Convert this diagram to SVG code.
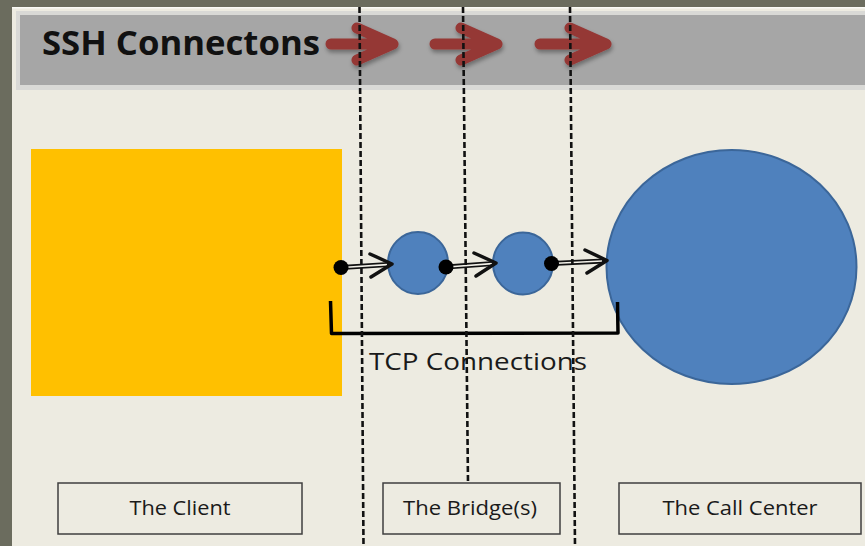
<svg xmlns="http://www.w3.org/2000/svg" width="865" height="546" viewBox="0 0 865 546">
<defs>
<style>
.lbl{font-family:"Open Sans","Liberation Sans",sans-serif;font-size:20px;fill:#1a1a1a}
.box{fill:none;stroke:#3f3f3f;stroke-width:1.5}
.red{fill:none;stroke:#953735;stroke-width:11;stroke-linecap:round;stroke-linejoin:round}
.dash{fill:none;stroke:#111;stroke-width:2.6;stroke-dasharray:6,3}
.bridge{fill:#4f81bd;stroke:#3b6699;stroke-width:2}
.shaftO{fill:none;stroke:#111;stroke-width:5}
.shaftI{fill:none;stroke:#f4f2ea;stroke-width:1.6}
.head{fill:none;stroke:#111;stroke-width:3.5;stroke-linecap:round;stroke-linejoin:round}
</style>
<filter id="sh" x="-20%" y="-20%" width="140%" height="160%">
<feDropShadow dx="1" dy="3" stdDeviation="2" flood-color="#000" flood-opacity="0.35"/>
</filter>
</defs>
<rect x="0" y="0" width="865" height="546" fill="#6b6c5e"/>
<rect x="12" y="7" width="853" height="539" fill="#edebe1"/>
<rect x="12" y="7" width="853" height="1.5" fill="#fafaf6"/>
<rect x="16" y="11" width="849" height="79" fill="#d9d9d6"/>
<rect x="20" y="15" width="845" height="70" fill="#a6a6a6"/>
<g id="title">
<text x="42" y="55" font-family="'Open Sans','Liberation Sans',sans-serif" font-weight="bold" font-size="34" fill="#111" textLength="278" lengthAdjust="spacingAndGlyphs">SSH Connectons</text>
</g>
<g id="ssh-arrows" filter="url(#sh)">
<path class="red" d="M331,44 H392 M357,28 L393,44 L357,60"/>
<path class="red" d="M435,44 H496 M461,28 L497,44 L461,60"/>
<path class="red" d="M540,44 H604 M570,28 L606,44 L570,60"/>
</g>
<g id="client"><rect x="31" y="149" width="311" height="247" fill="#ffc000"/></g>
<g id="bridge1"><ellipse class="bridge" cx="418" cy="263" rx="30" ry="31"/></g>
<g id="bridge2"><ellipse class="bridge" cx="523" cy="263.5" rx="30" ry="31"/></g>
<g id="callcenter"><ellipse class="bridge" cx="731.5" cy="267" rx="125" ry="117"/></g>
<g id="connectors">
<path class="shaftO" d="M341,267.5 L389,264.5"/><path class="shaftI" d="M346,267.2 L387,264.6"/>
<path class="head" d="M370,254 L392,264 L371,277"/>
<path class="shaftO" d="M446,267 L494,263.5"/><path class="shaftI" d="M451,266.7 L492,263.6"/>
<path class="head" d="M474,253 L496,263 L476,276"/>
<path class="shaftO" d="M552,263.5 L604,261"/><path class="shaftI" d="M557,263.2 L602,261"/>
<path class="head" d="M585,250 L607,260.5 L587,273"/>
<circle cx="341" cy="267.5" r="7.5" fill="#000"/>
<circle cx="446" cy="267" r="7.5" fill="#000"/>
<circle cx="551.5" cy="263.5" r="7.5" fill="#000"/>
<path d="M330.5,301 L331.5,333.5 L618,333 L617.5,302" fill="none" stroke="#000" stroke-width="3.5" stroke-linejoin="round"/>
</g>
<g id="tcp-label">
<text x="369" y="370" font-family="'Open Sans','Liberation Sans',sans-serif" font-size="24" fill="#1a1a1a" textLength="218" lengthAdjust="spacingAndGlyphs">TCP Connections</text>
</g>
<g id="label-client">
<rect class="box" x="58" y="483" width="244" height="51"/>
<text class="lbl" x="180" y="515" text-anchor="middle" textLength="101" lengthAdjust="spacingAndGlyphs">The Client</text>
</g>
<g id="label-bridge">
<rect class="box" x="383" y="483" width="177" height="51"/>
<text class="lbl" x="470" y="515" text-anchor="middle" textLength="134" lengthAdjust="spacingAndGlyphs">The Bridge(s)</text>
</g>
<g id="label-callcenter">
<rect class="box" x="619" y="483" width="242" height="51"/>
<text class="lbl" x="740" y="515" text-anchor="middle" textLength="155" lengthAdjust="spacingAndGlyphs">The Call Center</text>
</g>
<g id="dividers">
<path class="dash" d="M359.5,7 L363.5,546"/>
<path class="dash" d="M463,7 L468,483"/>
<path class="dash" d="M570,7 L575,546"/>
</g>
</svg>
